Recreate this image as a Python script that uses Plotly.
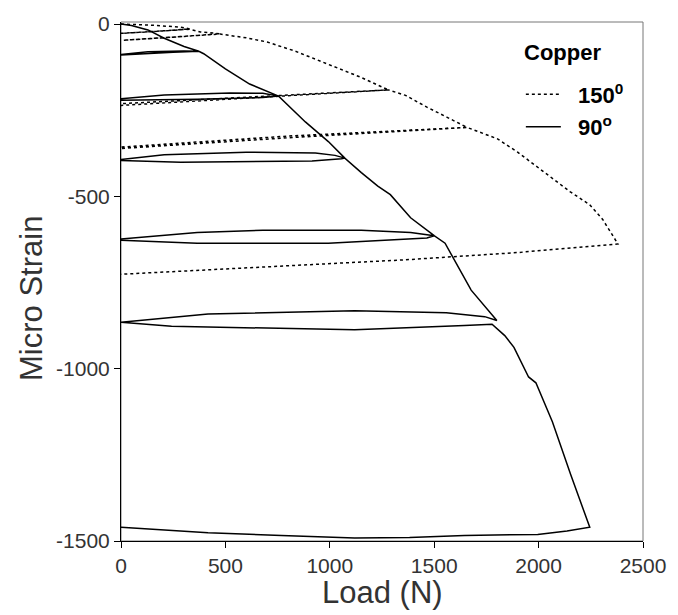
import plotly.graph_objects as go

# 150 degree series (dotted): load path with unload/reload loops
load_150 = [0, 140, 286, 330, 200, 0, 0, 200, 330, 380, 475, 250, 10, 10, 250, 475,
            600, 700, 836, 993, 1151, 1280, 700, 0, 0, 700, 1280,
            1363, 1465, 1560, 1658, 800, 0, 0, 800, 1658,
            1803, 1898, 2024, 2150, 2244, 2307, 2380, 1900, 1363, 700, 0]
strain_150 = [0, -3, -9, -14, -20, -27, -25, -19, -15, -23, -28, -38, -47, -46, -37, -29,
              -40, -52, -79, -117, -155, -191, -212, -236, -231, -208, -191,
              -207, -241, -270, -300, -330, -361, -357, -325, -300,
              -333, -371, -429, -486, -524, -567, -638, -663, -684, -704, -726]

# 90 degree series (solid)
load_90 = [0, 50, 129, 207, 302, 373, 250, 100, 0, 0, 129, 300, 373,
           396, 500, 616, 742, 755, 679, 365, 0, 0, 207, 522, 679, 755,
           883, 993, 1072, 1056, 915, 500, 286, 0, 0, 207, 600, 931, 1025, 1072,
           1151, 1230, 1290, 1387, 1500, 1465, 993, 365, 0, 0, 365, 679, 1151, 1387, 1500,
           1552, 1677, 1800, 1742, 1558, 1119, 417, 0, 0, 242, 1119, 1645, 1777,
           1838, 1882, 1952, 1987, 2066, 2154, 2245,
           2136, 1996, 1645, 1382, 1119, 768, 417, 0]
strain_90 = [0, -4, -17, -41, -65, -79, -82, -87, -90, -88, -80, -78, -79,
             -86, -130, -174, -206, -209, -213, -218, -221, -217, -206, -200, -201, -209,
             -284, -341, -389, -391, -397, -401, -401, -396, -393, -379, -372, -374, -381, -389,
             -431, -470, -495, -562, -614, -621, -636, -636, -627, -624, -605, -598, -598, -605, -614,
             -636, -772, -860, -849, -838, -832, -841, -863, -865, -877, -887, -875, -871,
             -904, -938, -1024, -1041, -1154, -1308, -1460,
             -1471, -1481, -1484, -1490, -1491, -1484, -1476, -1460]

x_ticks = [0, 500, 1000, 1500, 2000, 2500]
x_labels = ["0", "500", "1000", "1500", "2000", "2500"]
y_ticks = [0, -500, -1000, -1500]
y_labels = ["0", "-500", "-1000", "-1500"]
series_names = ["150<sup>0</sup>", "90<sup>o</sup>"]
legend_title = "Copper"

FONT = "Liberation Sans"
LEG_FONT = "Liberation Sans Narrow, Liberation Sans"
PAD = "\u00a0" * 2

fig = go.Figure()
fig.add_trace(go.Scatter(x=load_150, y=strain_150, mode="lines", name=PAD + series_names[0],
                         legendgroup="a",
                         line=dict(color="black", width=1.5, dash="3px,3px")))
fig.add_trace(go.Scatter(x=load_90, y=strain_90, mode="lines", name=PAD + series_names[1],
                         legendgroup="b",
                         line=dict(color="black", width=1.5)))

fig.update_layout(
    width=678, height=615,
    margin=dict(l=121, r=30, t=15, b=74),
    plot_bgcolor="white", paper_bgcolor="white",
    font=dict(family=FONT, color="#111"),
    showlegend=True,
    legend=dict(
        x=0.766, y=0.901, xanchor="left", yanchor="top",
        bgcolor="rgba(0,0,0,0)",
        font=dict(family=LEG_FONT, size=22, color="black", weight="bold"),
        itemwidth=35, tracegroupgap=1,
    ),
    xaxis=dict(range=[0, 2500], tickvals=x_ticks, ticktext=x_labels, ticks="outside",
               ticklen=6, tickcolor="black", showline=True, linecolor="black", linewidth=1,
               showgrid=False, zeroline=False,
               tickfont=dict(family=FONT, size=21, color="#333")),
    yaxis=dict(range=[-1500, 6], tickvals=y_ticks, ticktext=y_labels, ticks="outside",
               ticklen=6, tickcolor="black", showline=True, linecolor="black", linewidth=1,
               showgrid=False, zeroline=False,
               tickfont=dict(family=FONT, size=21, color="#333")),
    shapes=[dict(type="rect", xref="paper", yref="paper", x0=0, x1=1, y0=0, y1=1,
                 line=dict(color="#777", width=1), layer="below")],
    annotations=[
        dict(text=legend_title, xref="paper", yref="paper", x=0.769, y=0.942,
             xanchor="left", yanchor="middle", showarrow=False,
             font=dict(family=LEG_FONT, size=22, color="black", weight="bold")),
        dict(text="Load (N)", xref="paper", yref="paper", x=0.5, y=-0.1,
             xanchor="center", yanchor="middle", showarrow=False,
             font=dict(family=FONT, size=31, color="#333")),
        dict(text="Micro Strain", xref="paper", yref="paper", x=-0.1727, y=0.468,
             xanchor="center", yanchor="middle", showarrow=False, textangle=-90,
             font=dict(family=FONT, size=31, color="#333")),
    ],
)

fig.write_html("out.html")
